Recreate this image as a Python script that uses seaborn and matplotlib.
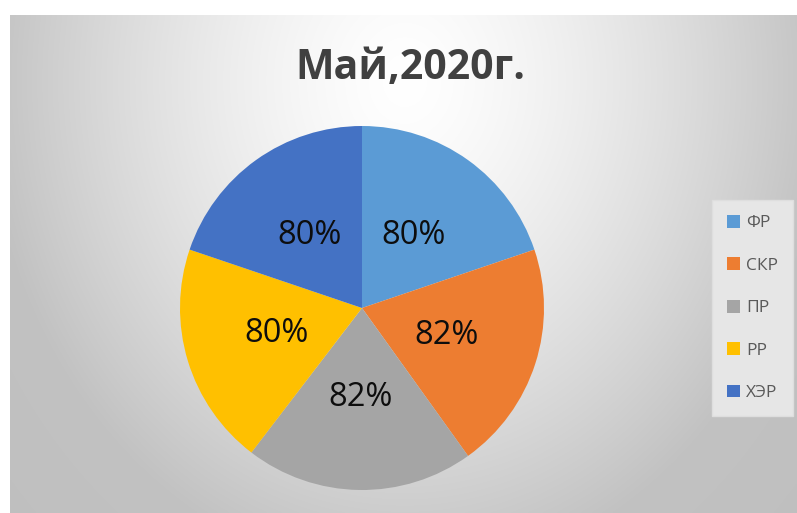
import numpy as np
import matplotlib
matplotlib.use("Agg")
import matplotlib.pyplot as plt
import seaborn as sns

categories = ["ФР", "СКР", "ПР", "РР", "ХЭР"]
values = [80, 82, 82, 80, 80]
colors = ["#5B9BD5", "#ED7D31", "#A5A5A5", "#FFC000", "#4472C4"]
title = "Май,2020г."

sns.set_theme(style="white")
plt.rcParams['font.family'] = ['Open Sans', 'DejaVu Sans']

W, H = 797, 513
fig = plt.figure(figsize=(W / 100, H / 100), dpi=100)
fig.patch.set_facecolor("white")

# background radial gradient for chart area
x0, y0 = 10, 15
bg = fig.add_axes([x0 / W, 0, (W - x0) / W, (H - y0) / H])
bg.set_axis_off()
xs = np.linspace(x0, W, 400)
ys = np.linspace(y0, H, 260)
X, Y = np.meshgrid(xs, ys)
d = np.sqrt(((X - 405) / 420) ** 2 + ((Y - 80) / 500) ** 2)
v = 1.0 - 0.24 * np.clip(d, 0, 1) ** 1.4 - 0.03 * np.clip(d - 1, 0, 1)
img = np.dstack([v, v, v])
bg.imshow(img, extent=[0, 1, 0, 1], aspect="auto", origin="upper",
          interpolation="bilinear")
bg.set_xlim(0, 1)
bg.set_ylim(0, 1)

# pie axes
cx, cy, r = 362, 308, 182
ax = fig.add_axes([(cx - r) / W, (H - cy - r) / H, 2 * r / W, 2 * r / H])
ax.set_axis_off()
total = sum(values)
wedges, texts, autotexts = ax.pie(
    values,
    colors=colors,
    startangle=90,
    counterclock=False,
    autopct=lambda p: f"{round(p * total / 100)}%",
    pctdistance=0.49,
    radius=1.0,
    wedgeprops=dict(linewidth=0),
    textprops=dict(color="#0d0d0d", fontsize=23.5),
)
ax.set_xlim(-1, 1)
ax.set_ylim(-1, 1)
ax.set_aspect("equal")

fig.text((297 + 523) / 2 / W, 1 - 68 / H, title, ha="center", va="center",
         fontsize=29.5, fontweight="bold", color="#404040")

leg = fig.legend(
    wedges, categories,
    loc="center left",
    bbox_to_anchor=(712 / W, 1 - 308 / H),
    frameon=True,
    fontsize=12.5,
    labelspacing=1.5,
    handlelength=0.75,
    handleheight=0.75,
    handletextpad=0.35,
    borderpad=0.85,
    borderaxespad=0,
    fancybox=False,
)
leg.get_frame().set_facecolor("#e6e6e6")
leg.get_frame().set_edgecolor("#dedede")
leg.get_frame().set_alpha(1)
for t in leg.get_texts():
    t.set_color("#595959")

fig.savefig("out.png", dpi=100)
